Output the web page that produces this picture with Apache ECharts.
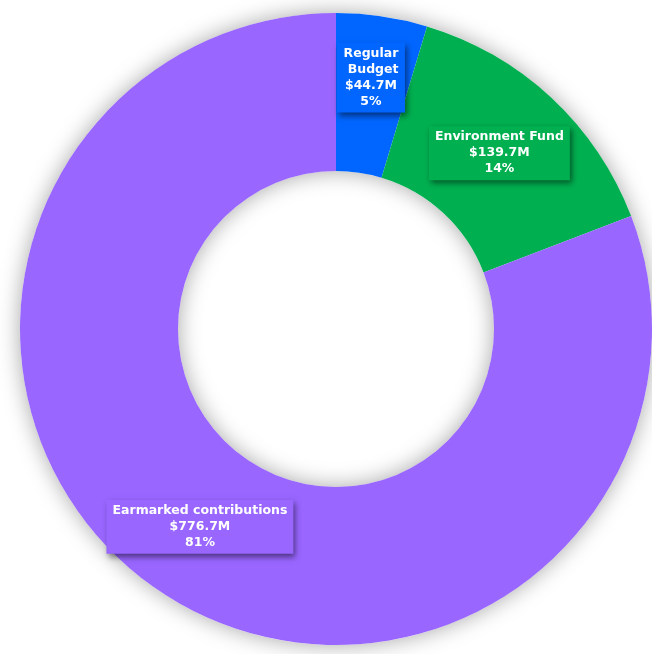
<!DOCTYPE html>
<html>
<head>
<meta charset="utf-8">
<script src="https://cdn.jsdelivr.net/npm/echarts@6/dist/echarts.min.js"></script>
<style>
html,body{margin:0;padding:0;background:#fff;}
#chart{width:652px;height:654px;}
</style>
</head>
<body>
<div id="chart"></div>
<script>
const categories = ['Regular Budget', 'Environment Fund', 'Earmarked contributions'];
const amounts = [44.7, 139.7, 776.7];
const colors = ['#0066FF', '#00B050', '#9966FF'];

const chart = echarts.init(document.getElementById('chart'));

const data = categories.map(function (name, i) {
  const item = {
    name: name,
    value: amounts[i],
    itemStyle: { color: colors[i] },
    label: { backgroundColor: colors[i] }
  };
  if (i === 0) {
    item.label.width = 56;
    item.label.overflow = 'break';
    item.label.offset = [0, -14];
  }
  return item;
});

chart.setOption({
  backgroundColor: '#fff',
  animation: false,
  series: [
    {
      type: 'pie',
      z: 1,
      silent: true,
      center: [336, 329],
      radius: [158, 316],
      label: { show: false },
      labelLine: { show: false },
      itemStyle: {
        color: '#ffffff',
        shadowBlur: 22,
        shadowColor: 'rgba(0,0,0,0.35)'
      },
      data: [{ value: 1, name: '' }]
    },
    {
      type: 'pie',
      z: 2,
      center: [336, 329],
      radius: [158, 316],
      startAngle: 90,
      clockwise: true,
      percentPrecision: 0,
      avoidLabelOverlap: false,
      itemStyle: { borderWidth: 0 },
      label: {
        show: true,
        position: 'inside',
        formatter: '{b}\n${c}M\n{d}%',
        color: '#ffffff',
        fontFamily: 'DejaVu Sans',
        fontWeight: 'bold',
        fontSize: 12.5,
        lineHeight: 16,
        align: 'center',
        padding: [3, 6],
        shadowColor: 'rgba(0,0,0,0.5)',
        shadowBlur: 6,
        shadowOffsetX: 2,
        shadowOffsetY: 3
      },
      labelLine: { show: false },
      emphasis: { disabled: true },
      data: data
    }
  ]
});
</script>
</body>
</html>
